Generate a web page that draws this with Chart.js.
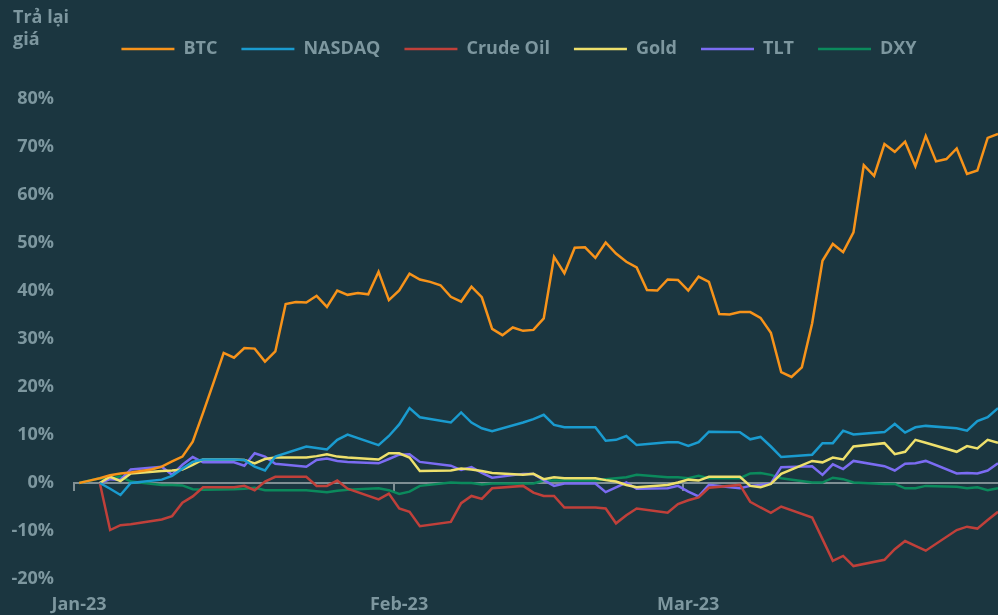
<!DOCTYPE html>
<html lang="vi">
<head>
<meta charset="utf-8">
<title>Trả lại giá</title>
<script src="https://cdn.jsdelivr.net/npm/chart.js@4"></script>
<style>
  html, body { margin: 0; padding: 0; background: #1b3640; }
  #wrap { position: relative; width: 998px; height: 615px; }
  #yTitle {
    position: absolute; left: 13px; top: 5px;
    font: bold 18px 'Open Sans', sans-serif; line-height: 22px;
    color: #7d979f;
  }
</style>
</head>
<body>
<div id="wrap">
  <canvas id="returnsChart" width="998" height="615"></canvas>
  <div id="yTitle">Trả lại<br>giá</div>
</div>
<script>
// Lợi nhuận tích lũy (%) từ đầu năm 2023
const monthTicks = ['01-01', '02-01', '03-01'];
const monthLabels = ['Jan-23', 'Feb-23', 'Mar-23'];

// BTC giao dịch mỗi ngày (01-01 .. 03-31)
const btcDates = [];
for (let d = new Date(Date.UTC(2023, 0, 1)); d <= new Date(Date.UTC(2023, 2, 31)); d.setUTCDate(d.getUTCDate() + 1)) {
    btcDates.push(d.toISOString().slice(5, 10));
}
const btc = [0, 0.5, 1.0, 1.6, 2.0, 2.2, 2.5, 2.8, 3.4, 4.5,
    5.5, 8.6, 14.6, 20.8, 27.1, 26.1, 28.1, 28.0, 25.3, 27.4,
    37.3, 37.7, 37.6, 39.0, 36.7, 40.1, 39.2, 39.6, 39.3, 44.0,
    38.1, 40.1, 43.6, 42.4, 41.9, 41.2, 38.8, 37.8, 40.9, 38.7,
    32.1, 30.8, 32.4, 31.7, 31.9, 34.3, 47.1, 43.7, 49.0, 49.1,
    46.9, 50.1, 47.8, 46.1, 44.9, 40.2, 40.1, 42.4, 42.3, 40.1,
    43.0, 41.9, 35.2, 35.1, 35.6, 35.6, 34.4, 31.3, 23.1, 22.1,
    24.1, 33.3, 46.3, 49.8, 48.1, 52.2, 66.2, 64.0, 70.6, 69.0,
    71.1, 66.0, 72.3, 67.0, 67.5, 69.7, 64.4, 65.1, 71.9, 72.7];

// Các ngày giao dịch của thị trường Mỹ
const stockDates = ['01-03', '01-04', '01-05', '01-06', '01-09', '01-10', '01-11', '01-12', '01-13',
    '01-16', '01-17', '01-18', '01-19', '01-20', '01-23', '01-24', '01-25', '01-26', '01-27',
    '01-30', '01-31', '02-01', '02-02', '02-03', '02-06', '02-07', '02-08', '02-09', '02-10',
    '02-13', '02-14', '02-15', '02-16', '02-17', '02-20', '02-21', '02-22', '02-23', '02-24',
    '02-27', '02-28', '03-01', '03-02', '03-03', '03-06', '03-07', '03-08', '03-09', '03-10',
    '03-13', '03-14', '03-15', '03-16', '03-17', '03-20', '03-21', '03-22', '03-23', '03-24',
    '03-27', '03-28', '03-29', '03-30', '03-31'];
const nasdaq = [0, -1.2, -2.5, 0.0, 0.7, 1.5, 3.0, 4.4, 4.9,
    4.9, 4.8, 3.4, 2.6, 5.5, 7.6, 7.3, 7.0, 9.0, 10.1,
    7.9, 9.8, 12.2, 15.6, 13.7, 12.6, 14.7, 12.6, 11.4, 10.8,
    12.6, 13.3, 14.2, 12.1, 11.6, 11.6, 8.8, 9.0, 9.8, 7.9,
    8.5, 8.5, 7.7, 8.5, 10.7, 10.6, 9.1, 9.6, 7.6, 5.4,
    5.9, 8.3, 8.3, 10.9, 10.1, 10.6, 12.3, 10.5, 11.6, 11.9,
    11.4, 10.9, 12.9, 13.7, 15.6];
const crudeOil = [0, -9.8, -8.8, -8.6, -7.6, -6.9, -4.1, -2.8, -0.9,
    -0.9, -0.6, -1.5, 0.3, 1.3, 1.3, -0.6, -0.6, 0.5, -1.2,
    -3.4, -2.2, -5.3, -6.0, -9.0, -8.1, -4.2, -2.7, -3.3, -1.1,
    -0.6, -2.0, -2.7, -2.7, -5.1, -5.1, -5.3, -8.4, -6.7, -5.3,
    -6.2, -4.4, -3.6, -3.0, -1.0, -0.4, -3.9, -5.1, -6.2, -4.9,
    -7.2, -11.7, -16.2, -15.2, -17.3, -16.0, -13.8, -12.1, -13.1, -14.1,
    -9.8, -9.1, -9.5, -7.7, -6.0];
const gold = [0, 1.3, 0.4, 2.0, 2.5, 2.6, 2.8, 3.8, 4.9,
    4.9, 4.8, 4.1, 5.0, 5.3, 5.3, 5.6, 6.0, 5.5, 5.3,
    4.9, 6.2, 6.2, 5.3, 2.5, 2.6, 3.0, 2.8, 2.5, 2.1,
    1.7, 1.9, 0.8, 1.2, 1.0, 1.0, 0.6, 0.3, -0.4, -0.9,
    -0.4, 0.1, 0.7, 0.5, 1.3, 1.3, -0.6, -0.9, -0.2, 1.9,
    4.6, 4.3, 5.3, 4.9, 7.6, 8.3, 6.0, 6.5, 9.0, 8.4,
    6.5, 7.7, 7.2, 9.0, 8.4];
const tlt = [0, 0.8, 0.7, 2.8, 3.4, 1.7, 3.8, 5.4, 4.3,
    4.3, 3.6, 6.2, 5.5, 4.0, 3.4, 4.8, 5.1, 4.6, 4.4,
    4.1, 5.0, 5.9, 6.0, 4.4, 3.6, 2.7, 3.3, 2.1, 1.1,
    1.9, 1.9, 0.6, -0.6, -0.1, -0.1, -1.9, -0.9, 0.1, -1.2,
    -1.1, -0.6, -1.8, -2.8, -0.4, -1.1, -0.6, -0.4, -0.1, 3.3,
    3.5, 1.7, 3.9, 2.9, 4.6, 3.5, 2.6, 4.0, 4.1, 4.6,
    2.0, 2.1, 2.0, 2.6, 4.1];

// DXY có thêm điểm xuất phát ngày 01-01
const dxyDates = ['01-01'].concat(stockDates);
const dxy = [0, 1.0, 0.9, 1.4, 0.3, -0.4, -0.4, -0.5, -1.3, -1.4,
    -1.3, -1.2, -1.0, -1.5, -1.5, -1.5, -1.7, -1.9, -1.6, -1.4,
    -1.1, -1.5, -2.3, -1.8, -0.6, 0.1, 0.0, 0.0, -0.3, -0.1,
    -0.1, -0.1, 0.5, 0.5, 0.5, 0.5, 0.8, 1.0, 1.2, 1.7,
    1.2, 1.2, 1.0, 1.5, 1.0, 1.0, 2.0, 2.1, 1.7, 1.0,
    0.1, 0.1, 1.1, 0.8, 0.1, -0.2, -0.2, -1.1, -1.1, -0.6,
    -0.8, -1.1, -0.9, -1.5, -1.1];

const TEXT = '#7d979f';
const AXIS = '#7f8f94';

// số ngày kể từ 01-01 (0h); điểm dữ liệu đặt vào giữa ngày
function dayOf(md) {
    const [m, d] = md.split('-').map(Number);
    return (Date.UTC(2023, m - 1, d) - Date.UTC(2023, 0, 1)) / 864e5;
}
function toPoints(dates, values) {
    return dates.map((md, i) => ({ x: dayOf(md) + 0.5, y: values[i] }));
}
function series(label, dates, values, color) {
    return {
        label: label,
        data: toPoints(dates, values),
        borderColor: color,
        backgroundColor: color,
        borderWidth: 2.5,
        pointRadius: 0,
        tension: 0
    };
}

const xMax = dayOf('03-31') + 0.5;
const tickValues = monthTicks.map(dayOf);
function setMonthTicks(axis) {
    axis.ticks = tickValues.map(v => ({ value: v }));
}

// thêm khoảng trống dưới chú giải và dời nó sang phải một chút
const legendTweak = {
    id: 'legendTweak',
    beforeInit(chart) {
        const fit = chart.legend.fit;
        chart.legend.fit = function () {
            fit.call(this);
            this.height += 31;
        };
    },
    afterLayout(chart) {
        chart.legend.left += 20;
        chart.legend.right += 20;
    }
};

Chart.defaults.font.family = "'Open Sans', sans-serif";
Chart.defaults.font.weight = 'bold';
Chart.defaults.font.size = 18;
Chart.defaults.color = TEXT;

new Chart(document.getElementById('returnsChart'), {
    type: 'line',
    data: {
        datasets: [
            series('BTC', btcDates, btc, '#f7931a'),
            series('NASDAQ', stockDates, nasdaq, '#1a9bcf'),
            series('Crude Oil', stockDates, crudeOil, '#c0403a'),
            series('Gold', stockDates, gold, '#eee06c'),
            series('TLT', stockDates, tlt, '#7b6cf2'),
            series('DXY', dxyDates, dxy, '#0b8a5c')
        ]
    },
    options: {
        responsive: false,
        animation: false,
        devicePixelRatio: 1,
        layout: { padding: { top: 16, left: 0, right: 0, bottom: 0 } },
        plugins: {
            legend: {
                position: 'top',
                align: 'center',
                labels: {
                    usePointStyle: true,
                    pointStyle: 'line',
                    pointStyleWidth: 53,
                    padding: 24,
                    color: TEXT,
                    font: { size: 18, weight: 'bold' }
                }
            },
            tooltip: { enabled: false }
        },
        scales: {
            x: {
                type: 'linear',
                min: 0,
                max: xMax,
                afterBuildTicks: setMonthTicks,
                afterFit: s => { s.height = 36; },
                grid: { display: false, drawTicks: false },
                border: { display: false },
                ticks: {
                    autoSkip: false,
                    maxRotation: 0,
                    padding: 15,
                    labelOffset: 5,
                    callback: (v) => monthLabels[tickValues.indexOf(v)]
                }
            },
            x2: {
                axis: 'x',
                type: 'linear',
                position: { y: 0 },
                min: 0,
                max: xMax,
                afterBuildTicks: setMonthTicks,
                grid: { drawOnChartArea: false, drawTicks: true, tickLength: 7, color: AXIS, lineWidth: 2 },
                border: { display: true, color: AXIS, width: 2 },
                ticks: { display: false }
            },
            y: {
                min: -20,
                max: 80,
                afterFit: s => { s.width = 74; },
                grid: { display: false, drawTicks: false },
                border: { display: false },
                ticks: {
                    stepSize: 10,
                    padding: 20,
                    callback: v => v + '%'
                }
            }
        }
    },
    plugins: [legendTweak]
});
</script>
</body>
</html>
